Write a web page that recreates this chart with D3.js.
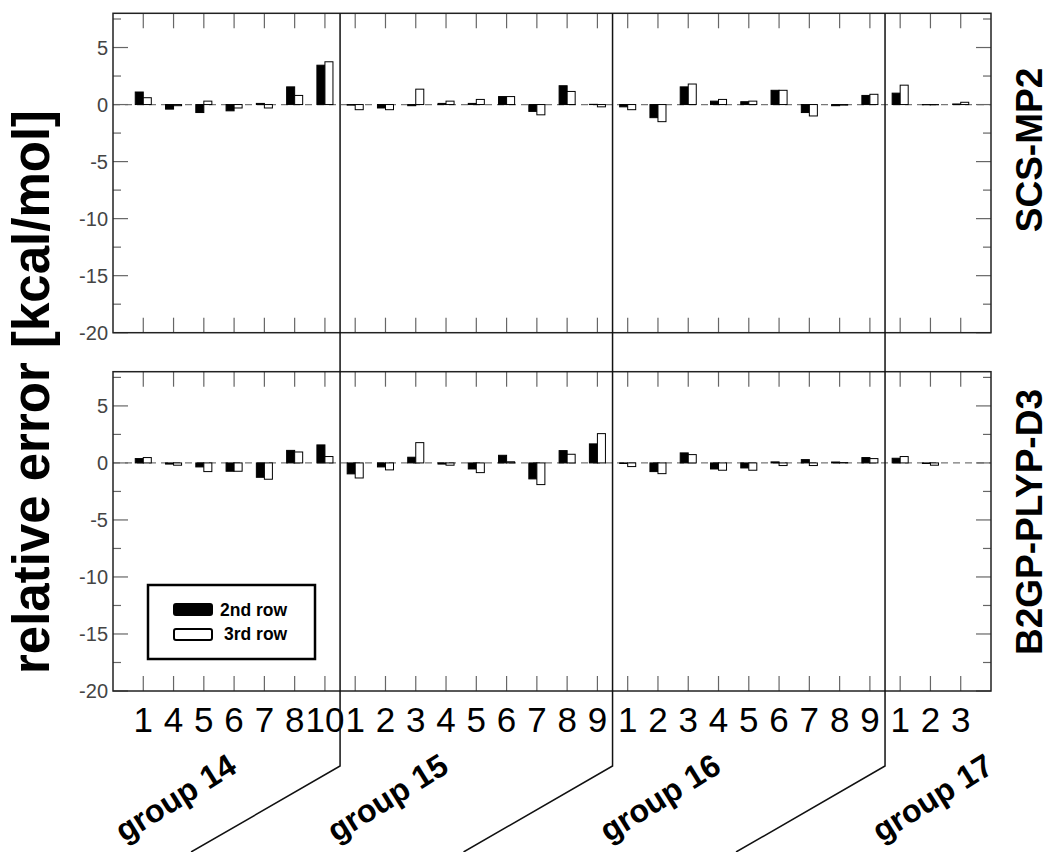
<!DOCTYPE html>
<html>
<head>
<meta charset="utf-8">
<script src="https://cdn.jsdelivr.net/npm/d3@7"></script>
<style>
  body { margin: 0; background: #fff; }
  svg { display: block; font-family: "Liberation Sans", Arial, sans-serif; }
</style>
</head>
<body>
<svg id="chart"></svg>
<script>
// tick labels per group (element numbers)
var group14 = ["1", "4", "5", "6", "7", "8", "10"];
var group15 = ["1", "2", "3", "4", "5", "6", "7", "8", "9"];
var group16 = ["1", "2", "3", "4", "5", "6", "7", "8", "9"];
var group17 = ["1", "2", "3"];
var groupNames = ["group 14", "group 15", "group 16", "group 17"];

var methods = ["SCS-MP2", "B2GP-PLYP-D3"];
var seriesNames = ["2nd row", "3rd row"];

// relative errors, kcal/mol
var scs2nd = [1.1, -0.4, -0.7, -0.55, 0.1, 1.55, 3.45,
  -0.05, -0.3, -0.1, 0.1, 0.1, 0.7, -0.6, 1.65, 0.02,
  -0.2, -1.15, 1.55, 0.3, 0.25, 1.25, -0.7, -0.1, 0.8,
  1.0, -0.02, 0.05];
var scs3rd = [0.6, -0.1, 0.3, -0.3, -0.3, 0.8, 3.75,
  -0.45, -0.45, 1.35, 0.3, 0.45, 0.7, -0.9, 1.15, -0.2,
  -0.45, -1.5, 1.8, 0.45, 0.3, 1.25, -1.0, -0.05, 0.9,
  1.7, -0.02, 0.2];
var b2gp2nd = [0.38, -0.1, -0.35, -0.73, -1.26, 1.1, 1.58,
  -0.96, -0.35, 0.5, -0.1, -0.53, 0.67, -1.4, 1.08, 1.67,
  -0.05, -0.76, 0.88, -0.53, -0.44, 0.09, 0.29, 0.08, 0.47,
  0.41, -0.05, 0];
var b2gp3rd = [0.47, -0.2, -0.76, -0.73, -1.43, 0.96, 0.56,
  -1.32, -0.61, 1.78, -0.2, -0.85, 0.1, -1.9, 0.76, 2.57,
  -0.32, -0.94, 0.73, -0.64, -0.64, -0.23, -0.23, 0.03, 0.38,
  0.56, -0.2, 0];

var yMajor = [5, 0, -5, -10, -15, -20];
var yMinor = [7.5, 2.5, -2.5, -7.5, -12.5, -17.5];

var width = 1050, height = 852;
var left = 113, right = 991;
var panels = [
  { name: methods[0], top: 13.3, bottom: 332.7, a: scs2nd, b: scs3rd },
  { name: methods[1], top: 371.7, bottom: 691, a: b2gp2nd, b: b2gp3rd }
];

var groups = [group14, group15, group16, group17];
var labels = [].concat.apply([], groups);
var n = labels.length;

var svg = d3.select("#chart").attr("width", width).attr("height", height);

var x = d3.scaleLinear().domain([0, n + 1]).range([left, right]);
var step = x(1) - x(0);
var barW = step * 0.265;

// start position of each group
var starts = [];
var acc = 1;
groups.forEach(function(g) { starts.push(acc); acc += g.length; });

panels.forEach(function(p, pi) {
  var y = d3.scaleLinear().domain([-20, 8]).range([p.bottom, p.top]);
  var g = svg.append("g");

  // zero line
  g.append("line")
    .attr("x1", left).attr("x2", right)
    .attr("y1", y(0)).attr("y2", y(0))
    .attr("stroke", "#777").attr("stroke-width", 1.2)
    .attr("stroke-dasharray", "7,5");

  // bars
  var rows = [p.a, p.b];
  rows.forEach(function(vals, si) {
    g.selectAll(null)
      .data(vals)
      .enter()
      .append("rect")
      .attr("x", function(d, i) { return si == 0 ? x(i + 1) - barW : x(i + 1); })
      .attr("y", function(d) { return y(Math.max(0, d)); })
      .attr("width", barW)
      .attr("height", function(d) { return Math.abs(y(d) - y(0)); })
      .attr("fill", si == 0 ? "#000" : "#fff")
      .attr("stroke", "#000")
      .attr("stroke-width", 1);
  });

  // ticks on top / bottom
  d3.range(1, n + 1).forEach(function(i) {
    g.append("line").attr("x1", x(i)).attr("x2", x(i))
      .attr("y1", p.top).attr("y2", p.top + 15)
      .attr("stroke", "#666").attr("stroke-width", 1.2);
    g.append("line").attr("x1", x(i)).attr("x2", x(i))
      .attr("y1", p.bottom).attr("y2", p.bottom - 15)
      .attr("stroke", "#666").attr("stroke-width", 1.2);
  });

  // y ticks left and right
  yMajor.forEach(function(v) {
    g.append("line").attr("x1", left).attr("x2", left + 15)
      .attr("y1", y(v)).attr("y2", y(v)).attr("stroke", "#666").attr("stroke-width", 1.2);
    g.append("line").attr("x1", right).attr("x2", right - 15)
      .attr("y1", y(v)).attr("y2", y(v)).attr("stroke", "#666").attr("stroke-width", 1.2);
    g.append("text")
      .attr("x", left - 5).attr("y", y(v))
      .attr("dy", "0.35em")
      .attr("text-anchor", "end")
      .attr("font-size", 20)
      .attr("fill", "#444")
      .text(v);
  });
  yMinor.forEach(function(v) {
    g.append("line").attr("x1", left).attr("x2", left + 8)
      .attr("y1", y(v)).attr("y2", y(v)).attr("stroke", "#666").attr("stroke-width", 1.2);
    g.append("line").attr("x1", right).attr("x2", right - 8)
      .attr("y1", y(v)).attr("y2", y(v)).attr("stroke", "#666").attr("stroke-width", 1.2);
  });

  // frame
  g.append("rect")
    .attr("x", left).attr("y", p.top)
    .attr("width", right - left).attr("height", p.bottom - p.top)
    .attr("fill", "none").attr("stroke", "#222").attr("stroke-width", 1.5);

  // method label
  var cy = pi == 0 ? 150 : 522;
  svg.append("text")
    .attr("transform", "translate(1042," + cy + ") rotate(-90)")
    .attr("text-anchor", "middle")
    .attr("font-size", 37)
    .attr("font-weight", "bold")
    .text(p.name);
});

// x tick labels
svg.selectAll(".xl")
  .data(labels)
  .enter()
  .append("text")
  .attr("x", function(d, i) { return x(i + 1); })
  .attr("y", 732)
  .attr("text-anchor", "middle")
  .attr("font-size", 35)
  .text(function(d) { return d; });

// group separators
starts.slice(1).forEach(function(s) {
  var sx = x(s - 0.5);
  svg.append("path")
    .attr("d", "M" + sx + "," + 13.3 + "L" + sx + ",766L" + (sx - 149) + ",852")
    .attr("fill", "none").attr("stroke", "#111").attr("stroke-width", 1.5);
});

// group labels
groupNames.forEach(function(name, gi) {
  var cx = x(starts[gi]) + 38;
  svg.append("text")
    .attr("transform", "translate(" + cx + ",807) rotate(-32)")
    .attr("text-anchor", "middle")
    .attr("font-size", 32)
    .attr("font-weight", "bold")
    .text(name);
});

// y title
svg.append("text")
  .attr("transform", "translate(49,392) rotate(-90)")
  .attr("text-anchor", "middle")
  .attr("font-size", 51)
  .attr("font-weight", "bold")
  .text("relative error [kcal/mol]");

// legend
var lg = svg.append("g");
lg.append("rect").attr("x", 148).attr("y", 585).attr("width", 167).attr("height", 74)
  .attr("fill", "#fff").attr("stroke", "#000").attr("stroke-width", 2.5);
seriesNames.forEach(function(s, i) {
  lg.append("rect")
    .attr("x", 174).attr("y", 604 + i * 25)
    .attr("width", 38).attr("height", 11)
    .attr("rx", 2)
    .attr("fill", i == 0 ? "#000" : "#fff")
    .attr("stroke", "#000").attr("stroke-width", 2);
  lg.append("text")
    .attr("x", 220 + i * 4).attr("y", 616 + i * 24)
    .attr("font-size", 17.5)
    .attr("font-weight", "bold")
    .text(s);
});
</script>
</body>
</html>
